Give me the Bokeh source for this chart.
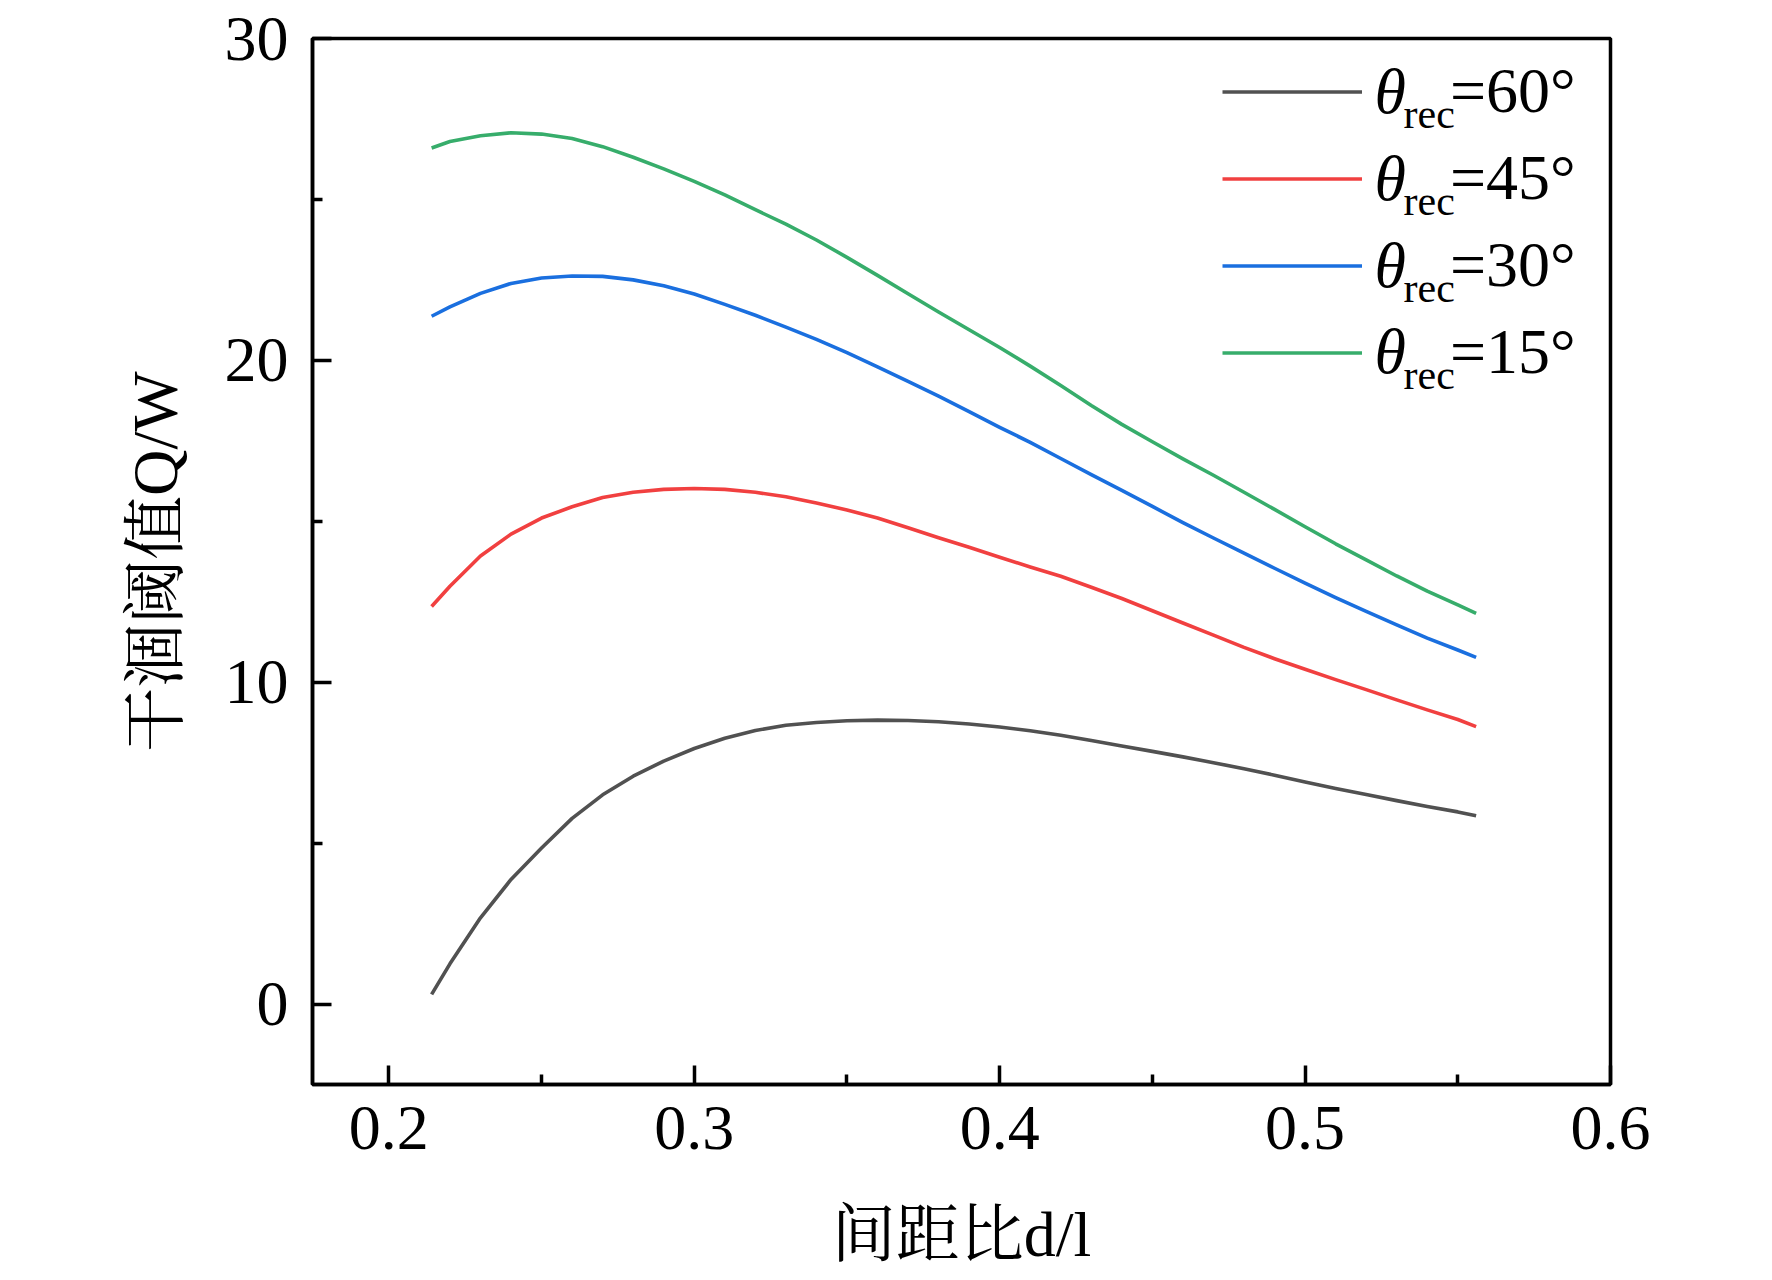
from bokeh.plotting import figure
from bokeh.models import Legend, LegendItem, Label, Range1d, FixedTicker
from bokeh.embed import file_html
from bokeh.resources import INLINE

# ---------------- data ----------------
dl = [0.214, 0.22, 0.23, 0.24, 0.25, 0.26, 0.27, 0.28, 0.29, 0.30, 0.31, 0.32,
      0.33, 0.34, 0.35, 0.36, 0.37, 0.38, 0.39, 0.40, 0.41, 0.42, 0.43, 0.44,
      0.45, 0.46, 0.47, 0.48, 0.49, 0.50, 0.51, 0.52, 0.53, 0.54, 0.55, 0.556]

q_60 = [0.3, 1.25, 2.68, 3.87, 4.85, 5.77, 6.5, 7.08, 7.55, 7.94, 8.26, 8.5,
        8.66, 8.75, 8.8, 8.82, 8.81, 8.77, 8.7, 8.61, 8.49, 8.35, 8.19, 8.02,
        7.85, 7.68, 7.5, 7.31, 7.11, 6.9, 6.7, 6.51, 6.32, 6.14, 5.97, 5.85]
q_45 = [12.35, 12.98, 13.92, 14.6, 15.1, 15.45, 15.74, 15.9, 15.99, 16.02, 15.99, 15.9,
        15.76, 15.57, 15.35, 15.1, 14.8, 14.49, 14.19, 13.88, 13.58, 13.29, 12.95, 12.6,
        12.22, 11.84, 11.46, 11.08, 10.73, 10.4, 10.08, 9.77, 9.45, 9.14, 8.84, 8.62]
q_30 = [21.37, 21.66, 22.08, 22.39, 22.56, 22.62, 22.61, 22.5, 22.32, 22.06, 21.74, 21.4,
        21.03, 20.65, 20.24, 19.8, 19.35, 18.89, 18.41, 17.92, 17.45, 16.95, 16.45, 15.96,
        15.46, 14.96, 14.48, 14.01, 13.54, 13.08, 12.63, 12.2, 11.78, 11.37, 11.0, 10.77]
q_15 = [26.6, 26.8, 26.98, 27.07, 27.03, 26.89, 26.64, 26.31, 25.95, 25.56, 25.14, 24.68,
        24.23, 23.74, 23.2, 22.64, 22.07, 21.5, 20.95, 20.4, 19.82, 19.22, 18.6, 18.01,
        17.47, 16.94, 16.43, 15.9, 15.37, 14.83, 14.3, 13.8, 13.3, 12.83, 12.4, 12.14]

angles = ["60", "45", "30", "15"]
series = [q_60, q_45, q_30, q_15]
colors = ["#515151", "#F14040", "#1A6FDF", "#37AD6B"]

x_ticks = [0.2, 0.3, 0.4, 0.5, 0.6]
x_minor = [0.25, 0.35, 0.45, 0.55]
y_ticks = [0, 10, 20, 30]
y_minor = [5, 15, 25]

x_title = "间距比d/l"
y_title = "干涸阈值Q/W"

# ---------------- layout constants ----------------
XMIN, XMAX, YMIN, YMAX = 0.175, 0.6, -2.5, 30
FL, FT, FW, FH = 312, 38, 1298, 1048   # frame position in picture (px)
W, H = 1764, 1272

SERIF = "Liberation Serif"
MIXED = "Liberation Serif, Noto Serif CJK SC, Noto Sans CJK SC"


def X(px):
    return XMIN + (px - FL) / FW * (XMAX - XMIN)


def Y(py):
    return YMAX - (py - FT) / FH * (YMAX - YMIN)


p = figure(width=W, height=H, x_range=Range1d(XMIN, XMAX), y_range=Range1d(YMIN, YMAX),
           output_backend="svg", toolbar_location=None,
           min_border_left=FL, min_border_top=FT,
           min_border_right=W - FL - FW, min_border_bottom=H - FT - FH)

p.background_fill_color = "white"
p.border_fill_color = "white"
p.xgrid.visible = False
p.ygrid.visible = False
p.outline_line_color = "black"
p.outline_line_width = 3.5

p.xaxis.ticker = FixedTicker(ticks=x_ticks, minor_ticks=x_minor)
p.yaxis.ticker = FixedTicker(ticks=y_ticks, minor_ticks=y_minor)
for ax in (p.xaxis, p.yaxis):
    ax.axis_line_width = 3.5
    ax.axis_line_color = "black"
    ax.major_tick_line_width = 3.5
    ax.minor_tick_line_width = 3.5
    ax.major_tick_line_color = "black"
    ax.minor_tick_line_color = "black"
    ax.major_tick_in = 19
    ax.major_tick_out = 0
    ax.minor_tick_in = 10
    ax.minor_tick_out = 0
    ax.major_label_text_font = SERIF
    ax.major_label_text_font_size = "64px"
    ax.major_label_text_color = "black"
    ax.axis_label_text_font = MIXED
    ax.axis_label_text_font_size = "64px"
    ax.axis_label_text_font_style = "normal"
    ax.axis_label_text_color = "black"
p.xaxis.major_label_standoff = 22
p.yaxis.major_label_standoff = 24
p.xaxis.axis_label = x_title
p.yaxis.axis_label = y_title
p.xaxis.axis_label_standoff = 47
p.yaxis.axis_label_standoff = 31

renderers = []
for ys, c in zip(series, colors):
    r = p.line(dl, ys, line_color=c, line_width=3.6, line_join="round")
    renderers.append(r)

# legend: line samples + "=XX°" text
items = [LegendItem(label="=" + a + "°", renderers=[r]) for a, r in zip(angles, renderers)]
ROW = 87
legend_top = 93 - ROW / 2  # picture px
legend = Legend(items=items, location=(1222 - FL, FH - (legend_top - FT) - ROW * len(items)),
                glyph_width=140, glyph_height=ROW, label_height=ROW, spacing=0,
                padding=0, margin=0, label_standoff=88,
                border_line_color=None, background_fill_alpha=0,
                label_text_font=SERIF, label_text_font_size="64px", label_text_color="black")
p.add_layout(legend)

for i, a in enumerate(angles):
    ly = 93 + ROW * i
    p.add_layout(Label(x=X(1374), y=Y(ly - 2), text="θ", text_font=SERIF, text_font_style="italic",
                       text_font_size="64px", text_align="left", text_baseline="middle",
                       text_color="black"))
    p.add_layout(Label(x=X(1403), y=Y(ly + 21), text="rec", text_font=SERIF,
                       text_font_size="42px", text_align="left", text_baseline="middle",
                       text_color="black"))

open("out.html", "w").write(file_html(p, INLINE))
